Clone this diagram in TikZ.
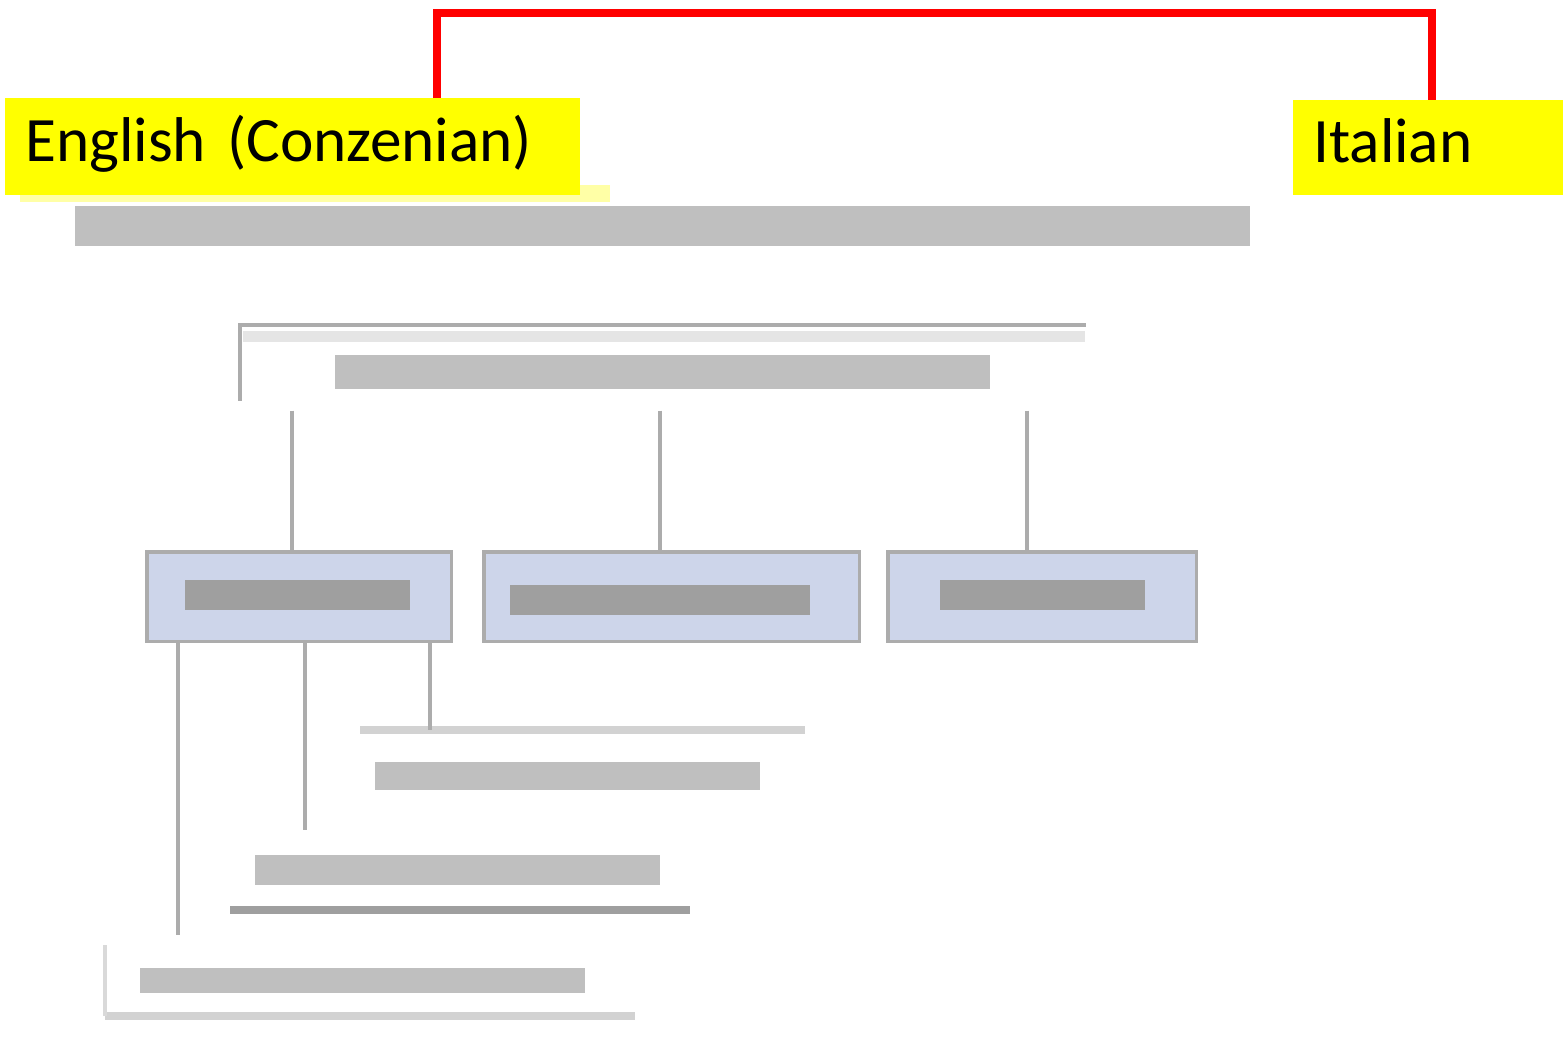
\documentclass[tikz,border=0pt]{standalone}
\usepackage{fontspec}
\setmainfont{Carlito}
\usepackage{tikz}
\usetikzlibrary{positioning}
\definecolor{boxblue}{HTML}{CDD5EA}
\definecolor{bracketred}{HTML}{FF0000}
\definecolor{tagyellow}{HTML}{FFFF00}

\begin{document}
\begin{tikzpicture}[
                x=0.02cm, y=-0.02cm,
                tag/.style={fill=tagyellow, anchor=north west, inner xsep=0.4cm, inner ysep=0pt, align=left, text height=0.9cm, text depth=0.3cm, font=\fontsize{36}{40}\selectfont}, % yellow language tags
                smudge/.style={fill=gray!50, inner sep=0pt, anchor=west}, % unreadable text
                kid/.style={draw=gray!65, line width=2pt, fill=boxblue, anchor=north west, inner sep=0pt, minimum height=1.8cm}, % blue boxes
                wire/.style={draw=gray!65, line width=2.6pt}, % connectors
                bracket/.style={draw=bracketred, line width=4pt}
                ]
                \useasboundingbox (0,0) rectangle (1563,1037);
                \fill[white] (0,0) rectangle (1563,1037);

                % language tags
                \fill[tagyellow!35] (20,185) rectangle (610,202);
                \node[tag, text width=10.7cm, minimum height=1.94cm] (eng) at (5,98) {English (Conzenian)};
                \node[tag, text width=4.6cm, minimum height=1.9cm] (ita) at (1293,100) {Italian};
                \coordinate (engfoot) at (437,0);
                \coordinate (itafoot) at (1432,0);
                \coordinate (bridge) at (935,13);
                \draw[bracket] (eng.north -| engfoot) |- (bridge) -| (ita.north -| itafoot);

                % title
                \node[smudge, minimum width=23.5cm, minimum height=0.8cm] (title) at (75,226) {};

                % top box
                \node[anchor=north west, inner sep=0pt, minimum width=16.9cm, minimum height=1.5cm] (root) at (240,325) {};
                \fill[gray!20] (243,331) rectangle (1085,342);
                \draw[wire] (root.south west) -- (root.north west) -- (root.north east);
                \node[smudge, minimum width=13.1cm, minimum height=0.7cm] (rootText) at (335,372) {};

                % three blue boxes
                \node[kid, minimum width=6.1cm] (kidA) at (145,550) {};
                \node[kid, minimum width=7.52cm] (kidB) at (482,550) {};
                \node[kid, minimum width=6.18cm] (kidC) at (886,550) {};
                \node[smudge, fill=gray!75, minimum width=4.5cm, minimum height=0.6cm] (kidAText) at (185,595) {};
                \node[smudge, fill=gray!75, minimum width=6cm, minimum height=0.6cm] (kidBText) at (510,600) {};
                \node[smudge, fill=gray!75, minimum width=4.1cm, minimum height=0.6cm] (kidCText) at (940,595) {};
                \draw[wire] ([yshift=-0.2cm]root.south -| 292,0) -- (kidA.north -| 292,0);
                \draw[wire] ([yshift=-0.2cm]root.south -| 660,0) -- (kidB.north -| 660,0);
                \draw[wire] ([yshift=-0.2cm]root.south -| 1027,0) -- (kidC.north -| 1027,0);

                % leaves under the first box
                \coordinate (leafA) at (430,730);
                \coordinate (leafB) at (305,830);
                \coordinate (leafC) at (178,935);
                \draw[draw=gray!35, line width=4.5pt] (360,730) -- (805,730);
                \node[smudge, minimum width=7.7cm, minimum height=0.55cm] (leafAText) at (375,776) {};
                \node[smudge, minimum width=8.1cm, minimum height=0.6cm] (leafBText) at (255,870) {};
                \draw[draw=gray!75, line width=5pt] (230,910) -- (690,910);
                \node[smudge, minimum width=8.9cm, minimum height=0.5cm] (leafCText) at (140,980) {};
                \draw[draw=gray!35, line width=5pt] (105,1016) -- (635,1016);
                \draw[draw=gray!30, line width=2pt] (105,945) -- (105,1016);
                \draw[wire] (kidA.south -| leafA) -- (leafA);
                \draw[wire] (kidA.south -| leafB) -- (leafB);
                \draw[wire] (kidA.south -| leafC) -- (leafC);
            \end{tikzpicture}
\end{document}
